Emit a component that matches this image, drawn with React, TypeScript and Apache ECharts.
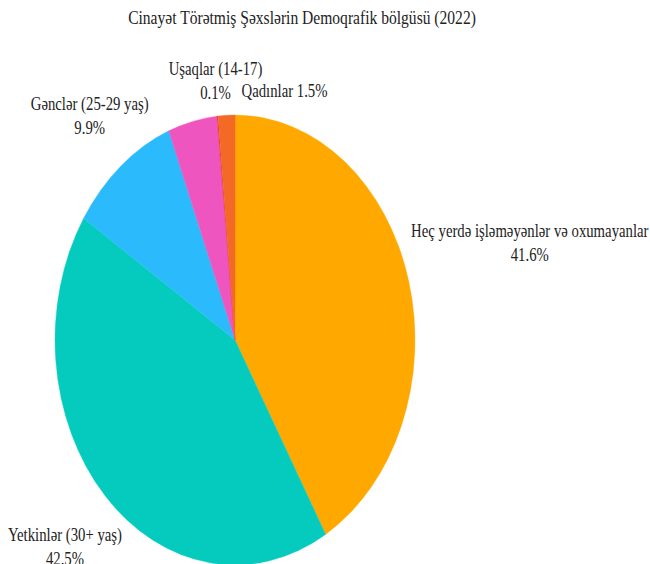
import React, { useEffect, useRef } from 'react';
import * as echarts from 'echarts';

// ---- data ----
const chartTitle = 'Cinayət Törətmiş Şəxslərin Demoqrafik bölgüsü (2022)';
const categories = [
  'Heç yerdə işləməyənlər və oxumayanlar',
  'Yetkinlər (30+ yaş)',
  'Gənclər (25-29 yaş)',
  '',
  'Uşaqlar (14-17)',
  'Qadınlar',
];
const values = [41.6, 42.5, 9.9, 4.4, 0.1, 1.5];

// ---- styles / layout ----
const colors = ['#FFA800', '#05CBBF', '#2BBBFD', '#EE55BF', '#EE3A2E', '#F26A25'];
const W = 650;
const H = 564;
const CX = 235;
const CY = 340;
const RX = 180;
const RY = 225;
const TEXT_SCALE_X = 0.82;
const FONT = '"Liberation Serif", "Times New Roman", serif';
const labelNudge: (number[] | null)[] = [[121, -38], [-40, 51], [-31, -50], null, [-2, -35], [58, -24]];
const labelSep = ['\n', '\n', '\n', '\n', '\n', ' '];

export default function App() {
  const ref = useRef<HTMLDivElement>(null);
  useEffect(() => {
    document.body.style.margin = '0';
    if (!ref.current) return;
    const chart = echarts.init(ref.current, null, { renderer: 'svg' });
    const total = values.reduce((a, b) => a + b, 0);
    let cum = 0;
    const seriesData = values.map((v, i) => {
      const s = cum / total;
      cum += v;
      const e = cum / total;
      return { name: categories[i], value: [s, e, v] };
    });

    const renderItem = (params: any, api: any) => {
      const i = params.dataIndex;
      const s = api.value(0);
      const e = api.value(1);
      const v = api.value(2);
      const a0 = -Math.PI / 2 + s * Math.PI * 2;
      const a1 = -Math.PI / 2 + e * Math.PI * 2;
      const children: any[] = [
        {
          type: 'sector',
          x: CX,
          y: CY,
          scaleY: RY / RX,
          shape: { cx: 0, cy: 0, r: RX, r0: 0, startAngle: a0, endAngle: a1, clockwise: true },
          style: { fill: colors[i], stroke: colors[i], lineWidth: 0.3 },
        },
      ];
      const nudge = labelNudge[i];
      if (nudge && categories[i]) {
        const mid = (a0 + a1) / 2;
        const ax = CX + RX * Math.cos(mid) + nudge[0];
        const ay = CY + RY * Math.sin(mid) + nudge[1];
        const pct = ((v / total) * 100).toFixed(1) + '%';
        children.push({
          type: 'text',
          x: ax,
          y: ay,
          scaleX: TEXT_SCALE_X,
          style: {
            text: categories[i] + labelSep[i] + pct,
            x: 0,
            y: 0,
            align: 'center',
            verticalAlign: 'middle',
            fontSize: 18,
            fontFamily: FONT,
            lineHeight: 24,
            fill: '#222',
          },
        });
      }
      return { type: 'group', children };
    };

    chart.setOption({
      animation: false,
      backgroundColor: '#fff',
      graphic: [
        {
          type: 'text',
          x: 302,
          y: 18,
          scaleX: TEXT_SCALE_X,
          style: {
            text: chartTitle,
            x: 0,
            y: 0,
            align: 'center',
            verticalAlign: 'middle',
            fontSize: 19,
            fontFamily: FONT,
            fill: '#222',
          },
        },
      ],
      series: [
        {
          type: 'custom',
          coordinateSystem: 'none',
          renderItem,
          data: seriesData,
          silent: true,
        },
      ],
    });
    return () => chart.dispose();
  }, []);
  return <div ref={ref} style={{ width: W, height: H }} />;
}
